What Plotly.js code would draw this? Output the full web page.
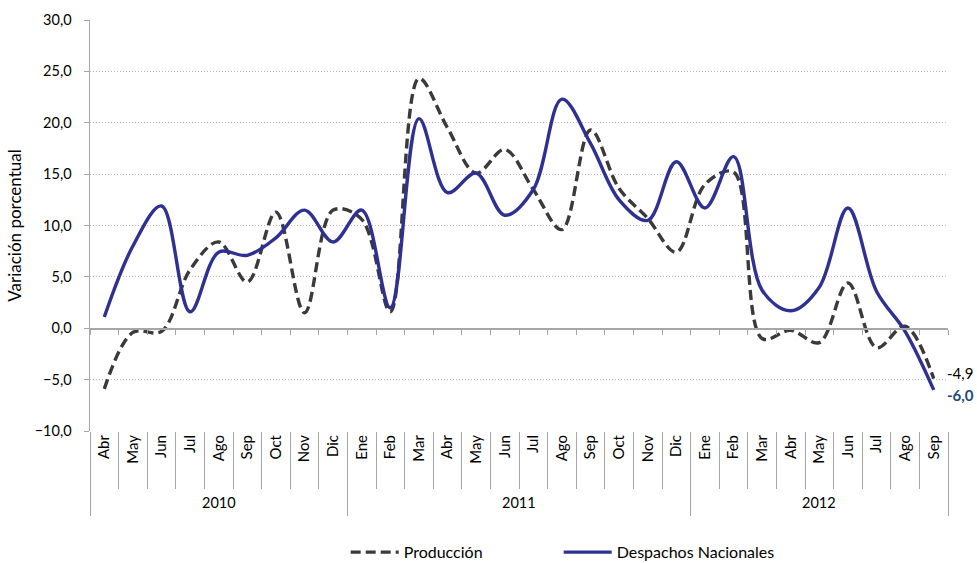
<!DOCTYPE html>
<html>
<head>
<meta charset="utf-8">
<script src="https://cdn.plot.ly/plotly-3.0.1.min.js"></script>
<style>html,body{margin:0;padding:0;background:#fff;}#chart{width:977px;height:563px;}</style>
</head>
<body>
<div id="chart"></div>
<script>
// ---- data ----
const years = ['2010', '2011', '2012'];
const monthsByYear = [
  ['Abr','May','Jun','Jul','Ago','Sep','Oct','Nov','Dic'],
  ['Ene','Feb','Mar','Abr','May','Jun','Jul','Ago','Sep','Oct','Nov','Dic'],
  ['Ene','Feb','Mar','Abr','May','Jun','Jul','Ago','Sep']
];
const produccion = [
  -5.9, -0.4, -0.3, 5.7, 8.4, 4.5, 11.3, 1.5, 11.5,
  10.6, 1.6, 24.3, 19.5, 15.1, 17.4, 13.5, 9.6, 19.3, 13.6, 10.7, 7.4,
  14.0, 15.2, -1.0, -0.2, -1.4, 4.4, -1.9, 0.2, -4.9
];
const despachos = [
  1.1, 8.0, 11.9, 1.6, 7.4, 7.1, 8.8, 11.5, 8.4,
  11.5, 2.0, 20.4, 13.2, 15.1, 11.0, 13.5, 22.3, 18.0, 12.5, 10.5, 16.2,
  11.7, 16.7, 3.7, 1.7, 4.0, 11.7, 3.6, -0.3, -6.0
];
const yRange = [-10, 30];

// ---- derived arrays ----
const monthLevel = [];
monthsByYear.forEach(ms => ms.forEach(m => monthLevel.push(m)));
const n = monthLevel.length;
const idx = monthLevel.map((_, i) => i);
const boundaries = [];
for (let i = 0; i <= n; i++) boundaries.push(i - 0.5);
const groupBounds = [-0.5];
const groupCenters = [];
let acc = 0;
monthsByYear.forEach(ms => {
  groupCenters.push(acc + (ms.length - 1) / 2);
  acc += ms.length;
  groupBounds.push(acc - 0.5);
});

const fontFam = 'Lato, "Open Sans", sans-serif';
const gray = '#A6A6A6';
const xr = [-0.5, n - 0.5];

function dummy(ax, inLegend) {
  return {x: idx, y: idx.map(() => null), type: 'scatter', mode: 'lines',
          xaxis: ax, yaxis: 'y', showlegend: !!inLegend, name: ' ',
          line: {color: 'rgba(0,0,0,0)'}, hoverinfo: 'skip'};
}

const traces = [
  {
    x: idx, y: produccion, type: 'scatter', mode: 'lines',
    name: 'Producción', xaxis: 'x', yaxis: 'y',
    line: {color: '#3A3A3A', width: 3.4, dash: '10px,5px', shape: 'spline', smoothing: 1},
    hoverinfo: 'skip'
  },
  {
    x: idx, y: despachos, type: 'scatter', mode: 'lines',
    name: 'Despachos Nacionales', xaxis: 'x', yaxis: 'y',
    line: {color: '#2E3192', width: 3.4, shape: 'spline', smoothing: 1},
    hoverinfo: 'skip'
  },
  dummy('x2', true), dummy('x3'), dummy('x4')
];

const last = n - 1;
const annotations = [
  {
    xref: 'x', yref: 'y', x: last, y: produccion[last], xanchor: 'left', yanchor: 'middle',
    xshift: 11, yshift: 6, showarrow: false,
    text: produccion[last].toFixed(1).replace('.', ','),
    font: {family: fontFam, size: 15, color: '#000'}
  },
  {
    xref: 'x', yref: 'y', x: last, y: despachos[last], xanchor: 'left', yanchor: 'middle',
    xshift: 11, yshift: -5, showarrow: false,
    text: '<b>' + despachos[last].toFixed(1).replace('.', ',') + '</b>',
    font: {family: fontFam, size: 15, color: '#1F497D'}
  }
];
years.forEach((yr, i) => annotations.push({
  xref: 'x', yref: 'paper', x: groupCenters[i], y: 0, yanchor: 'middle', yshift: -71,
  showarrow: false, text: yr, font: {family: fontFam, size: 14.5, color: '#000'}
}));

const layout = {
  width: 977, height: 563,
  margin: {l: 90, r: 29, t: 20, b: 132, autoexpand: false},
  paper_bgcolor: '#fff', plot_bgcolor: '#fff',
  separators: ',.',
  font: {family: fontFam, size: 14, color: '#000'},
  showlegend: true,
  legend: {
    orientation: 'h', x: 0.298, xanchor: 'left', y: -0.295, yanchor: 'middle',
    font: {family: fontFam, size: 16, color: '#000'}, entrywidth: 150, traceorder: 'normal',
    itemwidth: 48
  },
  xaxis: {
    type: 'linear', range: xr, automargin: false,
    tickmode: 'array', tickvals: idx, ticktext: monthLevel, tickangle: -90,
    ticks: '', showline: false, showgrid: false, zeroline: false,
    tickfont: {family: fontFam, size: 15, color: '#000'}
  },
  xaxis2: {
    overlaying: 'x', anchor: 'free', automargin: false,
    position: (0 - yRange[0]) / (yRange[1] - yRange[0]),
    type: 'linear', range: xr,
    tickmode: 'array', tickvals: boundaries, showticklabels: false,
    ticks: 'outside', ticklen: 5, tickcolor: gray, tickwidth: 1,
    showline: true, linecolor: gray, linewidth: 1.5,
    showgrid: false, zeroline: false
  },
  xaxis3: {
    overlaying: 'x', anchor: 'y', type: 'linear', range: xr, automargin: false,
    tickmode: 'array', tickvals: boundaries, showticklabels: false,
    ticks: 'outside', ticklen: 57, tickcolor: gray, tickwidth: 1,
    showline: false, showgrid: false, zeroline: false
  },
  xaxis4: {
    overlaying: 'x', anchor: 'y', type: 'linear', range: xr, automargin: false,
    tickmode: 'array', tickvals: groupBounds, showticklabels: false,
    ticks: 'outside', ticklen: 84, tickcolor: gray, tickwidth: 1,
    showline: false, showgrid: false, zeroline: false
  },
  yaxis: {
    range: yRange, dtick: 5, tick0: 0, tickformat: '.1f', automargin: false,
    showgrid: true, gridcolor: '#BDBDBD', griddash: '1px,2px', gridwidth: 1,
    zeroline: false,
    showline: true, linecolor: gray, linewidth: 1.5,
    ticks: 'outside', ticklen: 5, tickcolor: gray, ticklabelstandoff: 9,
    tickfont: {family: fontFam, size: 14.5, color: '#000'},
    title: {text: 'Variación porcentual', font: {family: fontFam, size: 17, color: '#000'}, standoff: 8}
  },
  annotations: annotations
};

Plotly.newPlot('chart', traces, layout, {staticPlot: true, displayModeBar: false});
</script>
</body>
</html>
